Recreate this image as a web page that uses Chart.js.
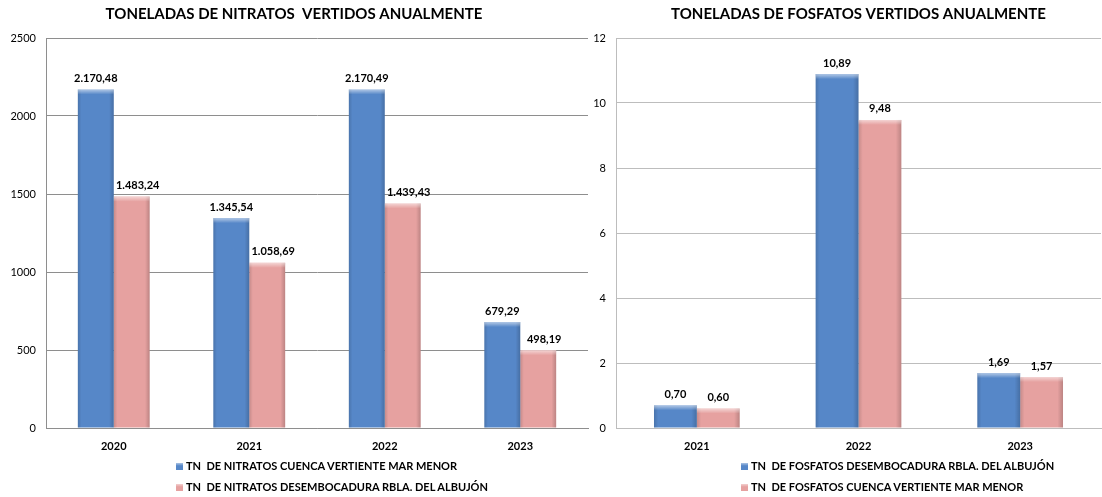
<!DOCTYPE html>
<html>
<head>
<meta charset="utf-8">
<script src="https://cdn.jsdelivr.net/npm/chart.js@4.4.1/dist/chart.umd.min.js"></script>
<style>
  html,body{margin:0;padding:0;background:#fff;width:1102px;height:497px;overflow:hidden;font-family:Lato,"Open Sans",sans-serif;}
  .wrap{position:absolute;top:0;height:497px;}
  #w1{left:0;width:590px;}
  #w2{left:590px;width:512px;}
  canvas{display:block;}
  .legend{position:absolute;font:bold 11px Lato,"Open Sans",sans-serif;color:#000;}
  .legend .it{position:absolute;white-space:pre;line-height:12px;height:12px;}
  .legend .sw{display:inline-block;width:7px;height:7px;margin-right:3px;vertical-align:0px;}
</style>
</head>
<body>
<div class="wrap" id="w1"><canvas id="c1" width="590" height="497"></canvas></div>
<div class="wrap" id="w2"><canvas id="c2" width="512" height="497"></canvas></div>
<div class="legend" id="lg1" style="left:176px;top:460px;"></div>
<div class="legend" id="lg2" style="left:741px;top:460px;"></div>
<script>
// ---- data ----
const nitratosTitle = 'TONELADAS DE NITRATOS  VERTIDOS ANUALMENTE';
const fosfatosTitle = 'TONELADAS DE FOSFATOS VERTIDOS ANUALMENTE';
const nitratosYears = ['2020', '2021', '2022', '2023'];
const nitratosCuenca = [2170.48, 1345.54, 2170.49, 679.29];
const nitratosAlbujon = [1483.24, 1058.69, 1439.43, 498.19];
const nitratosNames = ['TN  DE NITRATOS CUENCA VERTIENTE MAR MENOR', 'TN  DE NITRATOS DESEMBOCADURA RBLA. DEL ALBUJÓN'];
const fosfatosYears = ['2021', '2022', '2023'];
const fosfatosAlbujon = [0.70, 10.89, 1.69];
const fosfatosCuenca = [0.60, 9.48, 1.57];
const fosfatosNames = ['TN  DE FOSFATOS DESEMBOCADURA RBLA. DEL ALBUJÓN', 'TN  DE FOSFATOS CUENCA VERTIENTE MAR MENOR'];
const nitratosAxis = {max: 2500, step: 500};
const fosfatosAxis = {max: 12, step: 2};

const BLUE = '#5687C8';
const PINK = '#E6A1A0';
const FONT = 'Lato, "Open Sans", sans-serif';

function fmt(v){
  const parts = v.toFixed(2).split('.');
  return parts[0].replace(/\B(?=(\d{3})+(?!\d))/g, '.') + ',' + parts[1];
}

const bevel = {
  id: 'bevel',
  afterDatasetsDraw(chart){
    const ctx = chart.ctx;
    chart.data.datasets.forEach((ds, di) => {
      chart.getDatasetMeta(di).data.forEach(bar => {
        const p = bar.getProps(['x','y','base','width'], true);
        const l = p.x - p.width/2, w = p.width, h = p.base - p.y;
        if (h <= 0) return;
        ctx.save();
        const g = ctx.createLinearGradient(l, 0, l + w, 0);
        g.addColorStop(0, 'rgba(0,0,0,0.14)');
        g.addColorStop(0.1, 'rgba(0,0,0,0)');
        g.addColorStop(0.87, 'rgba(0,0,0,0)');
        g.addColorStop(1, 'rgba(0,0,0,0.18)');
        ctx.fillStyle = g;
        ctx.fillRect(l, p.y, w, h);
        const hh = Math.min(5, h);
        const g2 = ctx.createLinearGradient(0, p.y, 0, p.y + hh);
        g2.addColorStop(0, 'rgba(255,255,255,0.55)');
        g2.addColorStop(1, 'rgba(255,255,255,0)');
        ctx.fillStyle = g2;
        ctx.fillRect(l, p.y, w, hh);
        ctx.restore();
      });
    });
  }
};

const valueLabels = {
  id: 'valueLabels',
  afterDatasetsDraw(chart, args, opts){
    const ctx = chart.ctx;
    ctx.save();
    ctx.font = 'bold 11px ' + FONT;
    ctx.fillStyle = '#000';
    ctx.textAlign = 'center';
    ctx.textBaseline = 'middle';
    chart.data.datasets.forEach((ds, di) => {
      const dx = (opts.dx && opts.dx[di]) || 0;
      chart.getDatasetMeta(di).data.forEach((bar, i) => {
        const p = bar.getProps(['x','y'], true);
        ctx.fillText(fmt(ds.data[i]), p.x + dx, p.y - 11);
      });
    });
    ctx.restore();
  }
};

function makeChart(id, labels, d1, d2, names, title, axis, yWidth, padRight, gridColor, titleFull, dx){
  return new Chart(document.getElementById(id), {
    type: 'bar',
    data: {
      labels: labels,
      datasets: [
        {label: names[0], data: d1, backgroundColor: BLUE, borderWidth: 0},
        {label: names[1], data: d2, backgroundColor: PINK, borderWidth: 0}
      ]
    },
    options: {
      responsive: false,
      animation: false,
      devicePixelRatio: 1,
      layout: {padding: {left: 0, right: padRight, top: 0, bottom: 0}},
      datasets: {bar: {categoryPercentage: 0.53, barPercentage: 1.0}},
      plugins: {
        legend: {display: false},
        tooltip: {enabled: false},
        title: {
          display: true, text: title, color: '#000', fullSize: titleFull,
          font: {family: FONT, size: 15, weight: 'bold', lineHeight: 1.2},
          padding: {top: 5, bottom: 15}
        },
        valueLabels: {dx: dx}
      },
      scales: {
        x: {
          grid: {color: 'transparent', drawTicks: false},
          border: {display: true, color: gridColor, width: 1},
          ticks: {color: '#000', font: {family: FONT, size: 11, weight: 'bold'}, padding: 12},
          afterFit: s => { s.height = 69; }
        },
        y: {
          min: 0, max: axis.max,
          grid: {color: gridColor, drawTicks: false},
          border: {display: true, color: gridColor, width: 1},
          ticks: {stepSize: axis.step, color: '#000', font: {family: FONT, size: 11}, padding: 10,
                  callback: v => String(v)},
          afterFit: s => { s.width = yWidth; }
        }
      }
    },
    plugins: [bevel, valueLabels]
  });
}

makeChart('c1', nitratosYears, nitratosCuenca, nitratosAlbujon, nitratosNames, nitratosTitle, nitratosAxis, 46, 2, '#8E8E8E', true, [0, 6]);
makeChart('c2', fosfatosYears, fosfatosAlbujon, fosfatosCuenca, fosfatosNames, fosfatosTitle, fosfatosAxis, 26, 1, '#BDBDBD', false, [0, 0]);

function legend(id, names){
  const el = document.getElementById(id);
  const cols = [BLUE, PINK];
  names.forEach((n, i) => {
    const it = document.createElement('div');
    it.className = 'it';
    it.style.top = (i * 21) + 'px';
    const sw = document.createElement('span');
    sw.className = 'sw';
    sw.style.background = 'linear-gradient(to bottom, rgba(255,255,255,0.5), ' + cols[i] + ' 40%)';
    sw.style.backgroundColor = cols[i];
    it.appendChild(sw);
    it.appendChild(document.createTextNode(n));
    el.appendChild(it);
  });
}
legend('lg1', nitratosNames);
legend('lg2', fosfatosNames);
</script>
</body>
</html>
